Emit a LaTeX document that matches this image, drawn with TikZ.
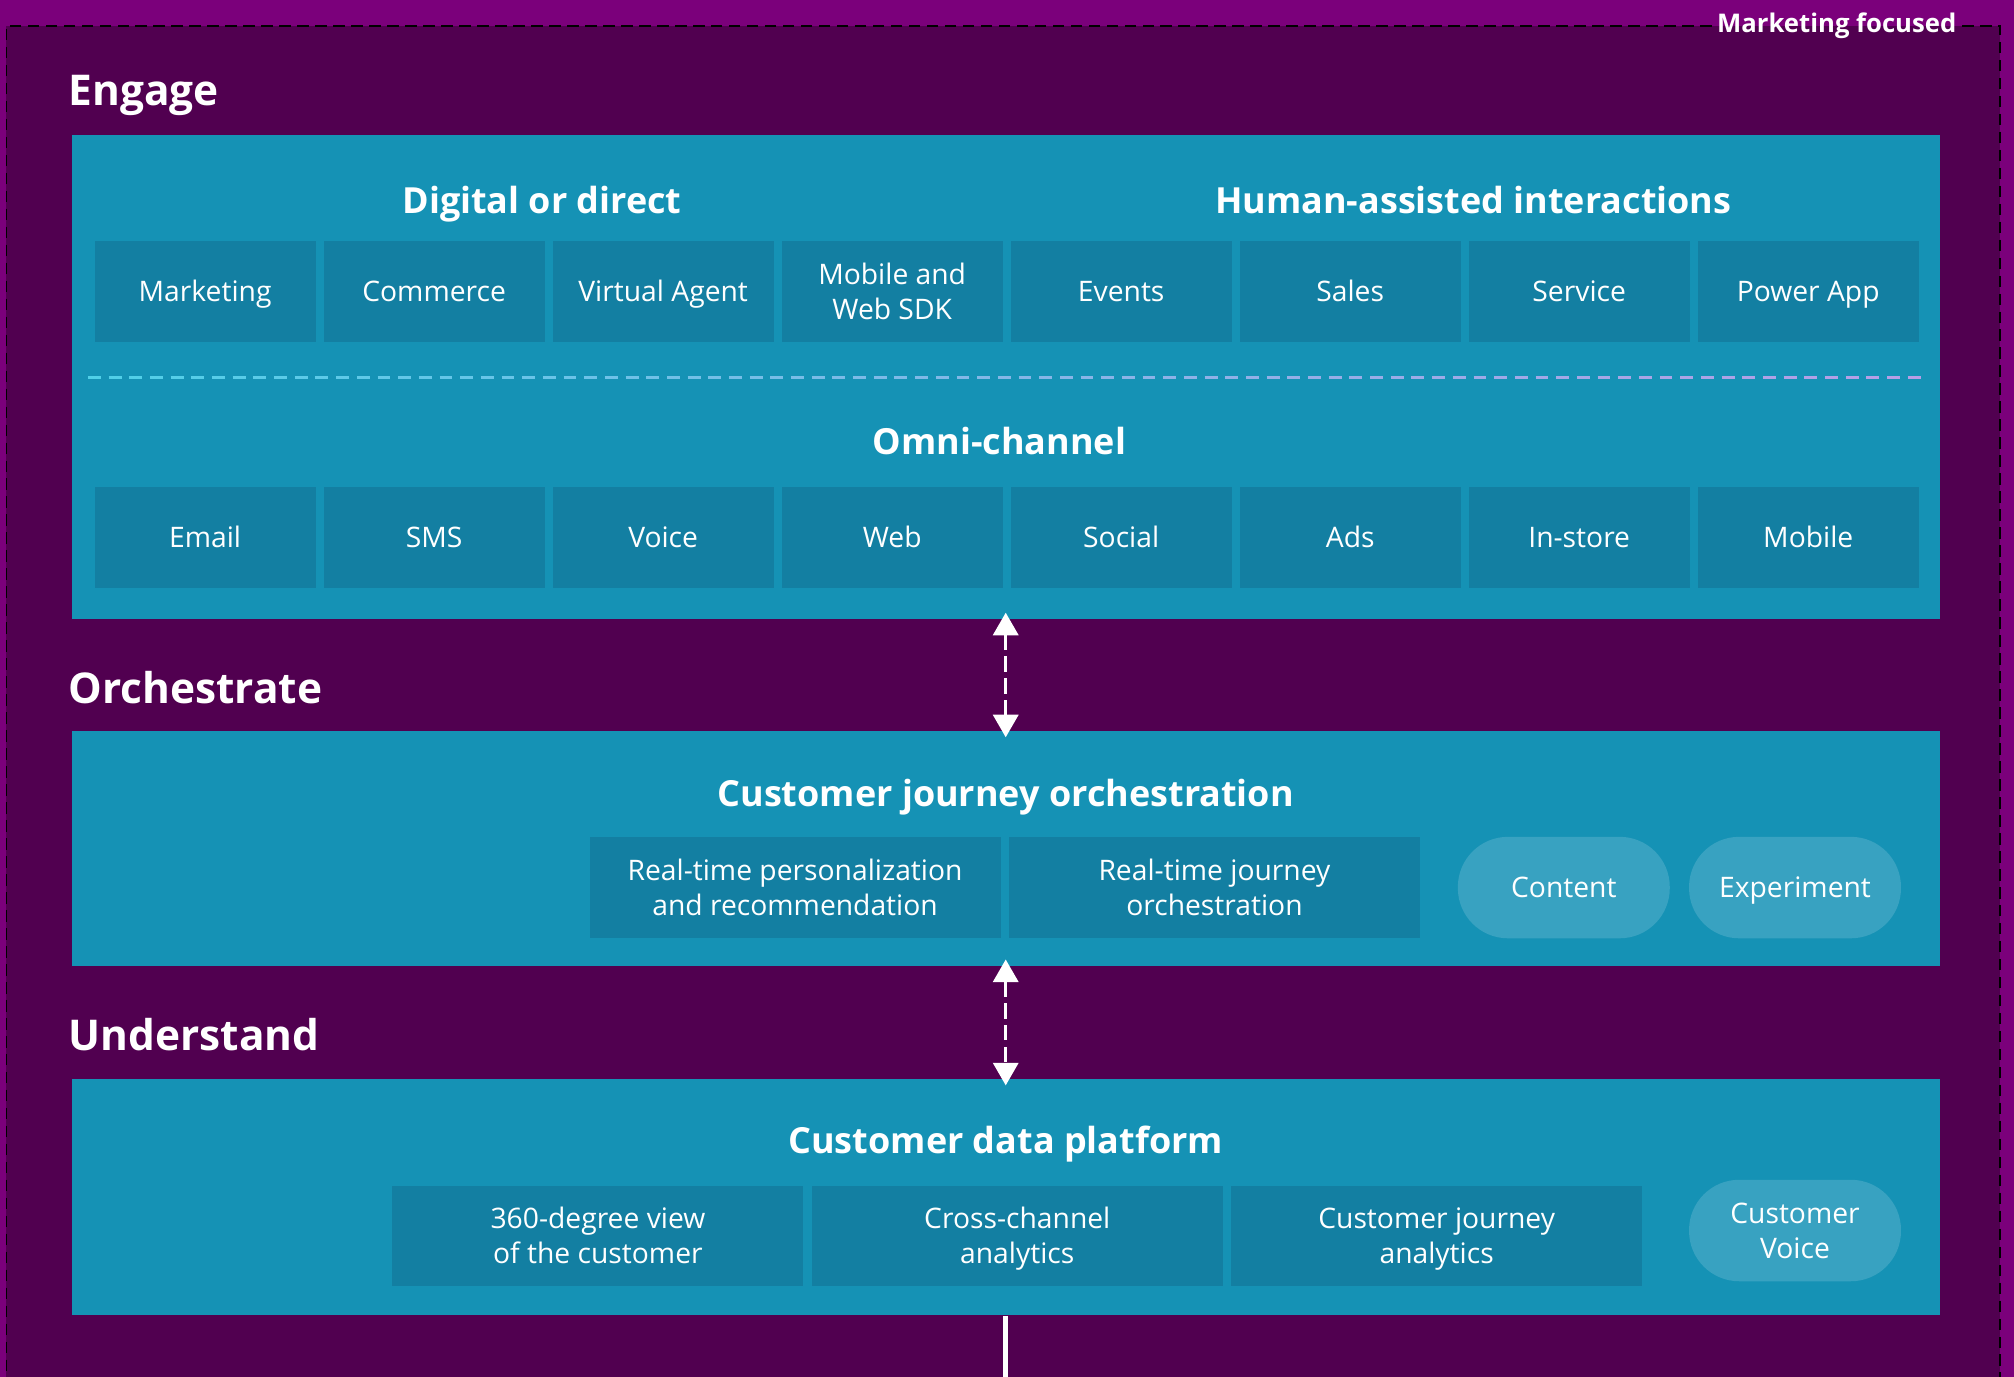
\documentclass[tikz,border=0pt]{standalone}
\usepackage{fontspec}
\setmainfont{Open Sans}
\usetikzlibrary{arrows.meta}

\definecolor{outerpurple}{RGB}{123,0,123}
\definecolor{innerpurple}{RGB}{81,0,80}
\definecolor{panelteal}{RGB}{21,146,181}
\definecolor{tileteal}{RGB}{19,127,162}
\definecolor{pillteal}{RGB}{56,162,193}
\definecolor{sepleft}{RGB}{80,208,232}
\definecolor{sepright}{RGB}{184,158,230}

\newcommand\tilestrut{\rule[-3pt]{0pt}{13.8pt}}

\tikzset{
  border/.style={black, line width=0.7pt, dash pattern=on 4.5pt off 2.5pt},
  panel/.style={fill=panelteal, minimum width=727pt, inner sep=0pt},
  tile/.style={fill=tileteal, text=white, minimum width=86pt, minimum height=39pt, inner sep=0pt, align=center, font=\fontsize{11}{13.5}\selectfont, execute at begin node=\tilestrut, execute at end node=\tilestrut},
  tall/.style={execute at begin node=\rule{0pt}{24.6pt}},
  widetile/.style={tile, tall, minimum width=160pt},
  pill/.style={tile, fill=pillteal, rounded corners=19.5pt, minimum width=82.5pt, minimum height=39.5pt},
  layer/.style={text=white, anchor=base west, inner sep=0pt, font=\bfseries\fontsize{16.5}{20}\selectfont},
  group/.style={text=white, anchor=base, inner sep=0pt, font=\bfseries\fontsize{14}{16}\selectfont},
  link/.style={white, line width=1.2pt, dash pattern=on 6pt off 2.5pt, {Triangle[width=9.8pt,length=8.8pt]}-{Triangle[width=9.8pt,length=8.8pt]}, shorten <=-2.7pt, shorten >=-2.7pt},
}

\begin{document}
\begin{tikzpicture}[x=0.5pt,y=0.5pt,yscale=-1,xscale=1]
%Background
\path[use as bounding box, fill=outerpurple] (0,0) rectangle (1568,1072);
%Shape: Rectangle
\fill[innerpurple] (5,20) rectangle (1557,1090);

% Text Node
\node[text=white, inner sep=2pt, font=\bfseries\fontsize{10}{12}\selectfont] (focus) at (1430,20) {Marketing focused};
%Dashed frame
\draw[border] (focus.west) -- (5,20) -- (5,1090);
\draw[border] (focus.east) -- (1557,20) -- (1557,1090);

%Shape: Rectangle
\node[panel, minimum height=188.5pt] (engage) at (783,293.5) {};
\node[panel, minimum height=91.5pt] (orch) at (783,660.5) {};
\node[panel, minimum height=92pt] (underst) at (783,932) {};

% Text Node
\node[layer] (engageLbl) at (53,82.5) {Engage};
\node[layer] (orchLbl) at (53,547.5) {Orchestrate};
\node[layer] (understLbl) at (53,817.5) {Understand};

% Text Node
\node[group] (digital) at (422,166) {Digital or direct};
\node[group] (human) at (1147,166) {Human-assisted interactions};
\node[group] (omni) at (778,354) {Omni-channel};
\node[group] (cjo) at (783,628) {Customer journey orchestration};
\node[group] (cdp) at (783,898) {Customer data platform};

%Engage tiles
\foreach \lbl/\opt [count=\i] in {Marketing/{}, Commerce/{}, Virtual Agent/{}, {Mobile and\\Web SDK}/tall, Events/{}, Sales/{}, Service/{}, Power App/{}}
  \node[tile,\opt] (app\i) at (159.7+178.3*\i-178.3,227) {\lbl};
\foreach \lbl [count=\i] in {Email, SMS, Voice, Web, Social, Ads, In-store, Mobile}
  \node[tile] (chan\i) at (159.7+178.3*\i-178.3,418.5) {\lbl};

%Dashed separator
\foreach \i in {0,...,88} {
  \pgfmathsetmacro\mix{100*\i/88}
  \draw[sepright!\mix!sepleft, line width=1pt] (68.5+16.1*\i,294) -- ++(10,0);
}

%Orchestrate tiles
\node[widetile] (rtp) at (619,691) {Real-time personalization\\and recommendation};
\node[widetile] (rtj) at (945.5,691) {Real-time journey\\orchestration};
\node[pill] (content) at (1217.5,691) {Content};
\node[pill] (experiment) at (1397.5,691) {Experiment};

%Understand tiles
\node[widetile] (view) at (465.5,962) {360-degree view\\of the customer};
\node[widetile] (cross) at (792,962) {Cross-channel\\analytics};
\node[widetile] (cja) at (1118.5,962) {Customer journey\\analytics};
\node[pill, tall] (voice) at (1397.5,958) {Customer\\Voice};

%Straight Lines
\draw[link] (engage.south) -- (orch.north);
\draw[link] (orch.south) -- (underst.north);
\coordinate (down) at (783,1072);
\draw[white, line width=2pt] (underst.south) -- (down);

\end{tikzpicture}
\end{document}
